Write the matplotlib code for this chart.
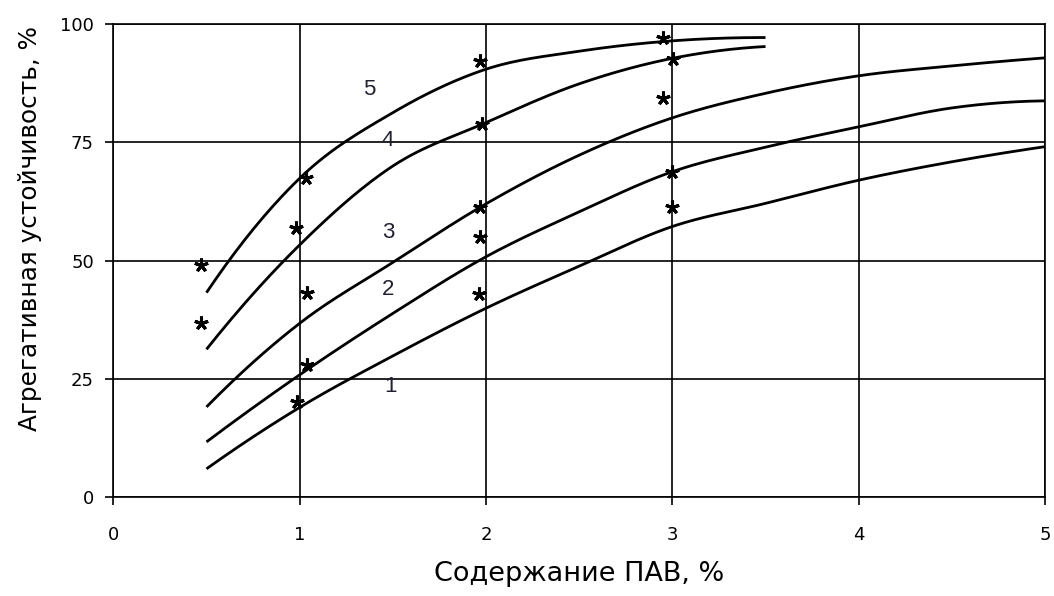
import numpy as np
import matplotlib
matplotlib.use("Agg")
import matplotlib.pyplot as plt

plt.rcParams['font.family'] = ['DejaVu Sans']

# Surfactant content, %
x_long = [0.5, 1.0, 1.5, 2.0, 2.5, 3.0, 3.5, 4.0, 4.5, 5.0]
x_short = [0.5, 1.0, 1.5, 2.0, 2.5, 3.0, 3.5]

# Aggregative stability curves, %
curve1 = [5.9, 18.9, 29.8, 39.9, 48.8, 57.2, 62.1, 67.0, 70.9, 74.1]
curve2 = [11.6, 25.8, 38.8, 50.8, 60.3, 68.8, 74.0, 78.3, 82.3, 83.8]
curve3 = [19.0, 36.7, 49.6, 62.0, 72.3, 80.2, 85.4, 89.1, 91.2, 92.9]
curve4 = [31.2, 53.3, 70.0, 79.2, 87.4, 92.8, 95.3]
curve5 = [43.2, 67.4, 81.3, 90.5, 94.3, 96.5, 97.2]

# Experimental points
exp1_x, exp1_y = [0.984, 1.96, 3.0], [20.1, 43.0, 61.4]
exp2_x, exp2_y = [1.038, 1.968, 3.0], [27.9, 55.0, 68.8]
exp3_x, exp3_y = [1.038, 1.968, 2.948], [43.2, 61.4, 84.5]
exp4_x, exp4_y = [0.47, 0.98, 1.977, 3.005], [36.7, 56.8, 79.0, 92.6]
exp5_x, exp5_y = [0.47, 1.034, 1.968, 2.948], [49.0, 67.4, 92.3, 97.2]

curve_labels = ['1', '2', '3', '4', '5']
label_x = [1.485, 1.476, 1.476, 1.47, 1.374]
label_y = [23.4, 43.9, 55.9, 75.5, 86.2]

x_ticks = [0, 1, 2, 3, 4, 5]
y_ticks = [0, 25, 50, 75, 100]


def smooth(xs, ys, n=30):
    """Catmull-Rom smoothing through the given points (quadratic end segments)."""
    xs = np.asarray(xs, float)
    ys = np.asarray(ys, float)

    def pad(a):
        head = 3 * a[0] - 3 * a[1] + a[2]
        tail = 3 * a[-1] - 3 * a[-2] + a[-3]
        return np.concatenate([[head], a, [tail]])

    px, py = pad(xs), pad(ys)
    outx, outy = [], []
    for i in range(1, len(px) - 2):
        t = np.linspace(0, 1, n, endpoint=(i == len(px) - 3))
        for arr, out in ((px, outx), (py, outy)):
            p0, p1, p2, p3 = arr[i - 1], arr[i], arr[i + 1], arr[i + 2]
            out.extend(0.5 * ((2 * p1) + (-p0 + p2) * t
                              + (2 * p0 - 5 * p1 + 4 * p2 - p3) * t ** 2
                              + (-p0 + 3 * p1 - 3 * p2 + p3) * t ** 3))
    return np.array(outx), np.array(outy)


fig = plt.figure(figsize=(10.54, 5.96), dpi=100)
ax = fig.add_axes([0.1075, 0.1666, 0.8840, 0.7926])

ax.set_xlim(0, 5)
ax.set_ylim(0, 100)
ax.set_xticks(x_ticks)
ax.set_yticks(y_ticks)
ax.set_xticklabels([str(v) for v in x_ticks], fontsize=13)
ax.set_yticklabels([str(v) for v in y_ticks], fontsize=13)
ax.tick_params(direction='out', length=6, width=1.2, color='black')
ax.tick_params(axis='x', pad=15)
ax.tick_params(axis='y', pad=8)

ax.grid(True, color='black', linewidth=1.2)
ax.set_axisbelow(True)
for side in ax.spines.values():
    side.set_color('black')
    side.set_linewidth(1.2)

for xs, ys in ((x_long, curve1), (x_long, curve2), (x_long, curve3),
               (x_short, curve4), (x_short, curve5)):
    sx, sy = smooth(xs, ys)
    ax.plot(sx, sy, color='black', linewidth=2.0, solid_capstyle='butt', zorder=3)

for ex, ey in ((exp1_x, exp1_y), (exp2_x, exp2_y), (exp3_x, exp3_y),
               (exp4_x, exp4_y), (exp5_x, exp5_y)):
    ax.plot(ex, ey, linestyle='none', marker=(5, 2, 0), markersize=10,
            markeredgewidth=2.2, color='black', zorder=4)

for lab, lx, ly in zip(curve_labels, label_x, label_y):
    ax.text(lx, ly, lab, fontsize=16, ha='center', va='center',
            color='#202030', family=['Liberation Sans', 'DejaVu Sans'])

ax.set_xlabel('Содержание ПАВ, %', fontsize=19.5, labelpad=12)
ax.set_ylabel('Агрегативная устойчивость, %', fontsize=17.8)
ax.yaxis.set_label_coords(-0.0765, 0.567)

fig.savefig('out.png', dpi=100)
